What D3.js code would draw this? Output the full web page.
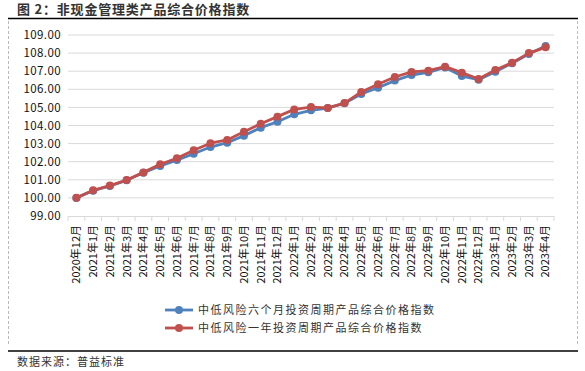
<!DOCTYPE html>
<html>
<head>
<meta charset="utf-8">
<script src="https://cdn.jsdelivr.net/npm/d3@7"></script>
<style>
  body { margin: 0; background: #fff; }
  text { font-family: "Noto Sans CJK SC", "DejaVu Sans", sans-serif; }
</style>
</head>
<body>
<div id="chart"></div>
<script>
// data
const months = ["2020年12月",
  "2021年1月","2021年2月","2021年3月","2021年4月","2021年5月","2021年6月",
  "2021年7月","2021年8月","2021年9月","2021年10月","2021年11月","2021年12月",
  "2022年1月","2022年2月","2022年3月","2022年4月","2022年5月","2022年6月",
  "2022年7月","2022年8月","2022年9月","2022年10月","2022年11月","2022年12月",
  "2023年1月","2023年2月","2023年3月","2023年4月"]
const sixMonth = [100.00, 100.40, 100.66, 100.97, 101.39, 101.76, 102.09, 102.44, 102.81, 103.05,
  103.44, 103.88, 104.21, 104.62, 104.84, 104.96, 105.23, 105.74, 106.09, 106.48,
  106.79, 106.94, 107.21, 106.73, 106.53, 106.97, 107.44, 107.95, 108.39]
const oneYear = [100.01, 100.42, 100.68, 100.99, 101.41, 101.86, 102.19, 102.63, 103.02, 103.20,
  103.66, 104.10, 104.49, 104.89, 105.02, 104.97, 105.24, 105.85, 106.28, 106.68,
  106.96, 107.03, 107.25, 106.92, 106.57, 107.07, 107.47, 108.00, 108.32]
const yTicks = [99, 100, 101, 102, 103, 104, 105, 106, 107, 108, 109]
const seriesNames = ["中低风险六个月投资周期产品综合价格指数", "中低风险一年投资周期产品综合价格指数"]
const colors = ["#4F81BD", "#C0504D"]

const W = 585, H = 371
const svg = d3.select("#chart").append("svg").attr("width", W).attr("height", H)

// title + frame
svg.append("text").attr("x", 17).attr("y", 14).attr("font-size", 13).attr("font-weight", "bold")
  .attr("letter-spacing", 0.8).attr("fill", "#333").text("图 2：非现金管理类产品综合价格指数")
svg.append("line").attr("x1", 8).attr("x2", 578).attr("y1", 18.5).attr("y2", 18.5)
  .attr("stroke", "#000").attr("stroke-width", 1.5)
svg.append("line").attr("x1", 8).attr("x2", 578).attr("y1", 351).attr("y2", 351)
  .attr("stroke", "#000").attr("stroke-width", 1.5)
svg.selectAll("line.dash").data([8.5, 577.5]).enter().append("line")
  .attr("x1", d => d).attr("x2", d => d).attr("y1", 21).attr("y2", 345)
  .attr("stroke", "#bbb").attr("stroke-dasharray", "3,2")
svg.append("text").attr("x", 17).attr("y", 366).attr("font-size", 11).attr("letter-spacing", 1)
  .attr("fill", "#333").text("数据来源：普益标准")

const x = d3.scaleBand().domain(months).range([68, 554])
const y = d3.scaleLinear().domain([99, 109]).range([216, 35])

// grid
svg.append("g").selectAll("line").data(yTicks.slice(1)).enter().append("line")
  .attr("x1", 68).attr("x2", 554).attr("y1", d => y(d)).attr("y2", d => y(d))
  .attr("stroke", "#d9d9d9")

// y axis labels
const yAxis = svg.append("g").attr("transform", "translate(68,0)")
  .call(d3.axisLeft(y).tickValues(yTicks).tickSize(0).tickPadding(7).tickFormat(d3.format(".2f")))
yAxis.select(".domain").remove()
yAxis.selectAll("text").attr("font-size", 11.5).attr("fill", "#111").attr("letter-spacing", 0.4)

// x axis
const xAxis = svg.append("g").attr("transform", "translate(0,216)")
  .call(d3.axisBottom(x).tickSize(0).tickPadding(6))
xAxis.select(".domain").attr("stroke", "#d9d9d9")
xAxis.selectAll("text").attr("font-size", 11).attr("fill", "#111")
  .attr("transform", "rotate(-90)").attr("text-anchor", "end")
  .attr("dx", -9).attr("dy", "0.35em").attr("y", 0)
svg.append("g").selectAll("line").data(months.concat([null])).enter().append("line")
  .attr("x1", (d, i) => 68 + i * x.step()).attr("x2", (d, i) => 68 + i * x.step())
  .attr("y1", 216).attr("y2", 221).attr("stroke", "#d9d9d9")

// series
const cx = d => x(d) + x.bandwidth() / 2
const line = d3.line().x((d, i) => cx(months[i])).y(d => y(d))
;[sixMonth, oneYear].forEach((vals, k) => {
  const g = svg.append("g")
  g.append("path").datum(vals).attr("d", line).attr("fill", "none")
    .attr("stroke", colors[k]).attr("stroke-width", 2.8).attr("stroke-linejoin", "round")
  g.selectAll("circle").data(vals).enter().append("circle")
    .attr("cx", (d, i) => cx(months[i])).attr("cy", d => y(d)).attr("r", 4)
    .attr("fill", colors[k])
})

// legend
const leg = svg.append("g").selectAll("g").data(seriesNames).enter().append("g")
  .attr("transform", (d, i) => `translate(165,${310 + i * 18})`)
leg.append("line").attr("x1", 0).attr("x2", 28).attr("stroke", (d, i) => colors[i]).attr("stroke-width", 2.8)
leg.append("circle").attr("cx", 14).attr("r", 4).attr("fill", (d, i) => colors[i])
leg.append("text").attr("x", 33).attr("dy", "0.35em").attr("font-size", 11).attr("letter-spacing", 1.5)
  .attr("fill", "#333").text(d => d)
</script>
</body>
</html>
